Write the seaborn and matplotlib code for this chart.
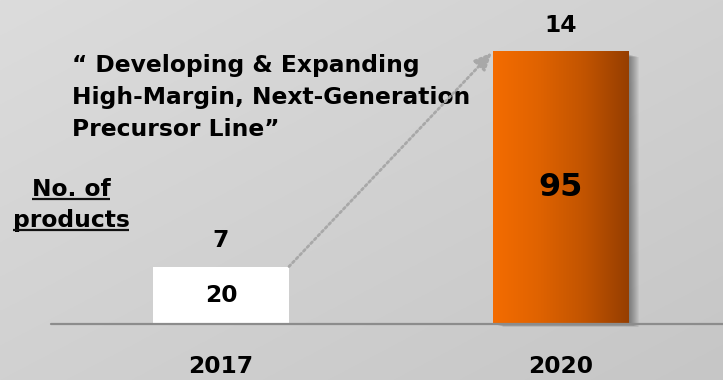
import numpy as np
import pandas as pd
import matplotlib
matplotlib.use("Agg")
import matplotlib.pyplot as plt
import matplotlib.transforms as mtransforms
from matplotlib.colors import LinearSegmentedColormap
from matplotlib.lines import Line2D
from matplotlib.patches import Rectangle
import seaborn as sns

# ---- data -------------------------------------------------------------
years = ["2017", "2020"]
revenue = [20, 95]          # value shown inside each bar
products = [7, 14]          # number of products, shown above each bar
headline = ["\u201c Developing & Expanding",
            "High-Margin, Next-Generation",
            "Precursor Line\u201d"]
row_label = ["No. of", "products"]

# ---- style ------------------------------------------------------------
sns.set_theme(style="white")
plt.rcParams["font.family"] = ["DejaVu Sans"]
bar_colors = ["#ffffff", "#e46600"]
TXT = 16.8

W_PX, H_PX, DPI = 723, 380, 100
fig = plt.figure(figsize=(W_PX / DPI, H_PX / DPI), dpi=DPI)
ax = fig.add_axes([0, 0, 1, 1])

# soft diagonal grey backdrop
gx, gy = np.meshgrid(np.linspace(0, 1, 300), np.linspace(0, 1, 300))
shade = (220 - 22 * (0.5 * gx + 0.5 * gy)) / 255
ax.imshow(np.dstack([shade, shade, shade]), extent=(0, 1, 0, 1),
          transform=ax.transAxes, aspect="auto", origin="upper", zorder=0)

df = pd.DataFrame({"year": years, "revenue": revenue})
sns.barplot(data=df, x="year", y="revenue", hue="year", order=years,
            hue_order=years, palette=bar_colors, width=0.4, saturation=1,
            legend=False, linewidth=0, ax=ax, zorder=3)

# axis frame: category spacing 340 px, baseline 56 px above the bottom
xl = (-221 / 340, (W_PX - 221) / 340)
unit = 273 / max(revenue)                     # pixels per value unit
yl = (-(H_PX - 324) / unit, 324 / unit)
ax.set_xlim(*xl)
ax.set_ylim(*yl)
ax.set_axis_off()
dx = (xl[1] - xl[0]) / W_PX
dy = (yl[1] - yl[0]) / H_PX

bars = sorted(ax.patches, key=lambda p: p.get_x())
hi = bars[-1]
x0, w, h = hi.get_x(), hi.get_width(), hi.get_height()

# drop shadow on the highlighted bar
for k in range(1, 11):
    ax.add_patch(Rectangle((x0 + k * dx, -k * 0.3 * dy), w, h - 3 * dy,
                           facecolor="black", edgecolor="none",
                           alpha=0.045, zorder=2))

# horizontal orange gradient on the highlighted bar
cmap = LinearSegmentedColormap.from_list(
    "amber", ["#f46c00", "#e06300", "#c25400", "#963e00"])
im = ax.imshow(np.linspace(0, 1, 256)[None, :], cmap=cmap, aspect="auto",
               extent=(x0, x0 + w, 0, h), zorder=3.5,
               interpolation="bicubic")
im.set_clip_path(hi)
ax.set_xlim(*xl)
ax.set_ylim(*yl)

# baseline
ax.axhline(0, xmin=51 / W_PX, xmax=1, color="#8c8c8c", lw=1.6, zorder=4)

# dotted growth arrow from the first bar to the second
b0 = bars[0]
ax.annotate("", xy=(x0 - 1.2 * dx, revenue[1] - 1.6 * dy),
            xytext=(b0.get_x() + b0.get_width(), revenue[0]),
            arrowprops=dict(arrowstyle="-|>,head_length=0.7,head_width=0.32",
                            mutation_scale=15, color="#a8a8a8", lw=2.0,
                            linestyle=(0, (0.8, 1.1)), shrinkA=0, shrinkB=0),
            zorder=5)

# value labels
for i, (v, n) in enumerate(zip(revenue, products)):
    ax.annotate(str(n), xy=(i, v), xytext=(0, 14), textcoords="offset points",
                ha="center", va="baseline", fontsize=TXT, fontweight="bold",
                color="black", zorder=6)
    ax.text(i, v / 2, str(v), ha="center", va="center",
            fontsize=23 if i == len(revenue) - 1 else TXT,
            fontweight="bold", color="black", zorder=6)

# category labels under the baseline
blend = mtransforms.blended_transform_factory(ax.transData, ax.transAxes)
for i, yr in enumerate(years):
    ax.text(i, 1 - 373 / H_PX, yr, transform=blend, ha="center",
            va="baseline", fontsize=TXT, fontweight="bold", color="black")

# headline quote
for line, yb in zip(headline, [72, 104, 136]):
    ax.text(72 / W_PX, 1 - yb / H_PX, line, transform=ax.transAxes,
            ha="left", va="baseline", fontsize=TXT, fontweight="bold",
            color="black")

# underlined row caption
caps = []
for line, yb in zip(row_label, [196, 227]):
    t = ax.text(71 / W_PX, 1 - yb / H_PX, line, transform=ax.transAxes,
                ha="center", va="baseline", fontsize=TXT, fontweight="bold",
                color="black")
    caps.append((t, yb))
fig.canvas.draw()
for t, yb in caps:
    bb = t.get_window_extent()
    yu = 1 - (yb + 3) / H_PX
    ax.add_line(Line2D([bb.x0 / fig.bbox.width, bb.x1 / fig.bbox.width],
                       [yu, yu], transform=ax.transAxes, color="#111111",
                       lw=1.6, solid_capstyle="butt", zorder=6))

fig.savefig("out.png", dpi=DPI)
